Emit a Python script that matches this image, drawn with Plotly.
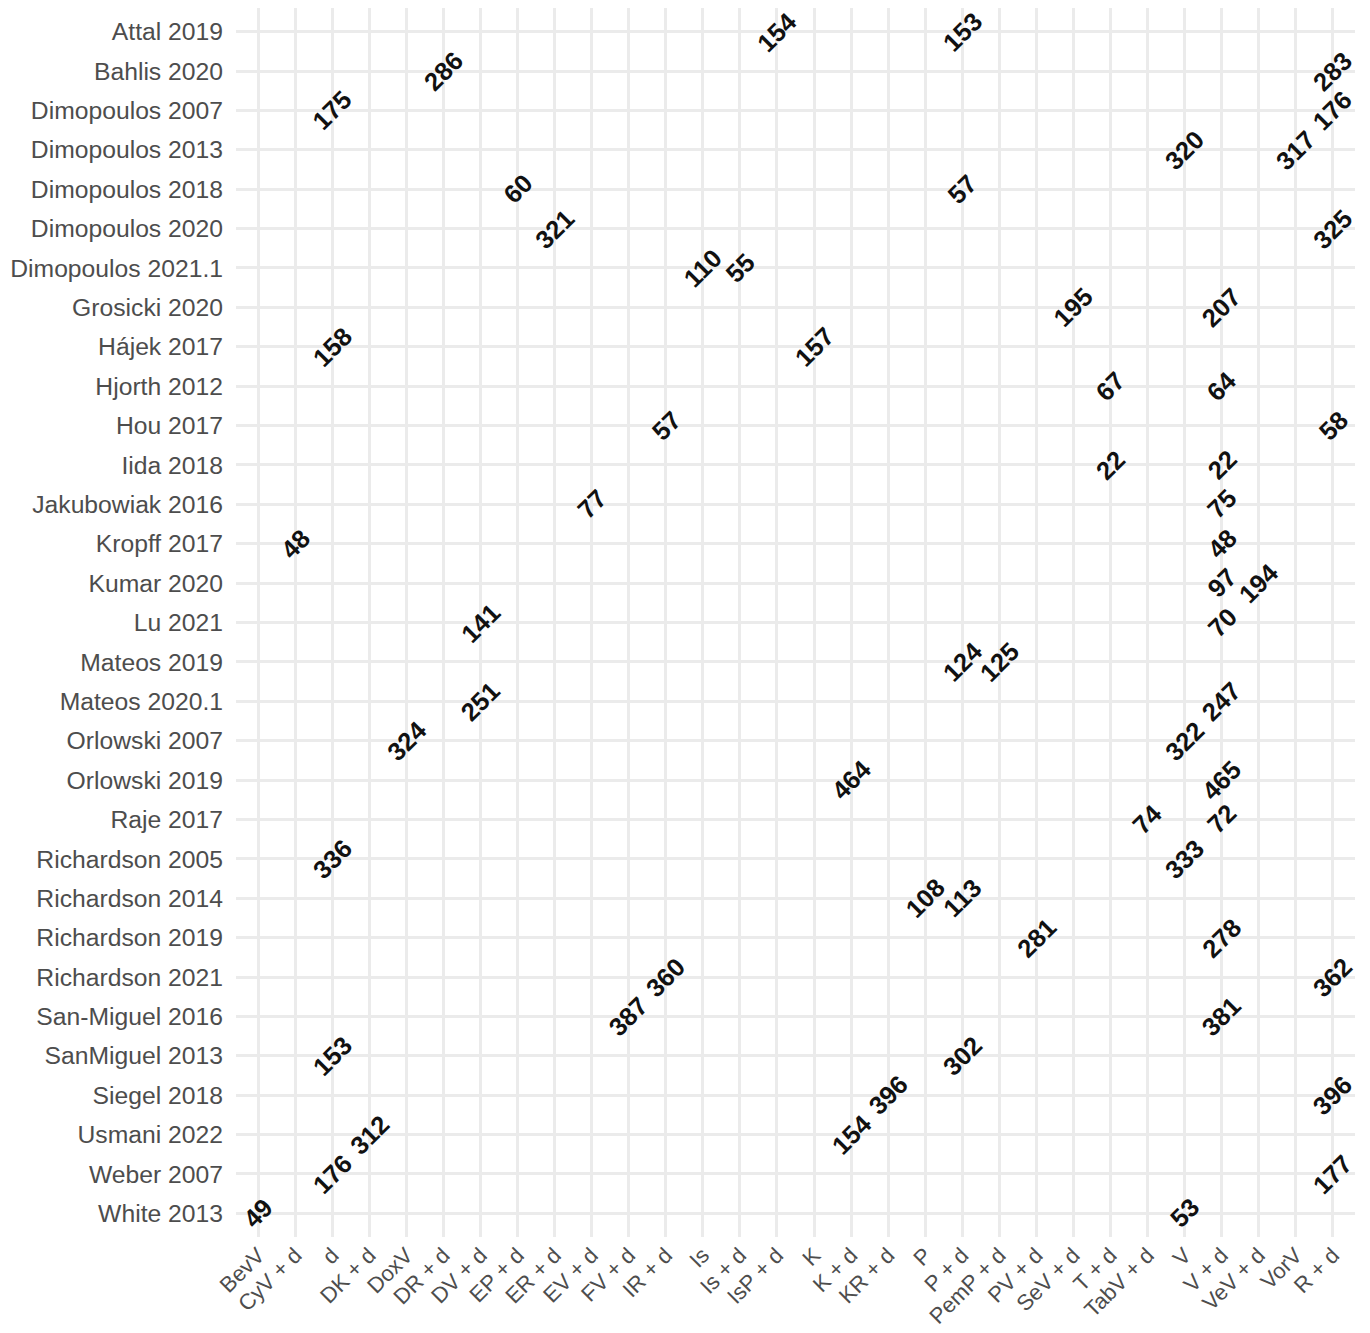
import plotly.graph_objects as go

# Study labels (rows, top to bottom)
studies = [
    "Attal 2019", "Bahlis 2020", "Dimopoulos 2007", "Dimopoulos 2013",
    "Dimopoulos 2018", "Dimopoulos 2020", "Dimopoulos 2021.1", "Grosicki 2020",
    "Hájek 2017", "Hjorth 2012", "Hou 2017", "Iida 2018", "Jakubowiak 2016",
    "Kropff 2017", "Kumar 2020", "Lu 2021", "Mateos 2019", "Mateos 2020.1",
    "Orlowski 2007", "Orlowski 2019", "Raje 2017", "Richardson 2005",
    "Richardson 2014", "Richardson 2019", "Richardson 2021", "San-Miguel 2016",
    "SanMiguel 2013", "Siegel 2018", "Usmani 2022", "Weber 2007", "White 2013",
]

# Treatment arms (columns, left to right)
treatments = [
    "BevV", "CyV + d", "d", "DK + d", "DoxV", "DR + d", "DV + d", "EP + d",
    "ER + d", "EV + d", "FV + d", "IR + d", "Is", "Is + d", "IsP + d", "K",
    "K + d", "KR + d", "P", "P + d", "PemP + d", "PV + d", "SeV + d", "T + d",
    "TabV + d", "V", "V + d", "VeV + d", "VorV", "R + d",
]

# Sample size per study arm
arm_study = [
    "Attal 2019", "Attal 2019",
    "Bahlis 2020", "Bahlis 2020",
    "Dimopoulos 2007", "Dimopoulos 2007",
    "Dimopoulos 2013", "Dimopoulos 2013",
    "Dimopoulos 2018", "Dimopoulos 2018",
    "Dimopoulos 2020", "Dimopoulos 2020",
    "Dimopoulos 2021.1", "Dimopoulos 2021.1",
    "Grosicki 2020", "Grosicki 2020",
    "Hájek 2017", "Hájek 2017",
    "Hjorth 2012", "Hjorth 2012",
    "Hou 2017", "Hou 2017",
    "Iida 2018", "Iida 2018",
    "Jakubowiak 2016", "Jakubowiak 2016",
    "Kropff 2017", "Kropff 2017",
    "Kumar 2020", "Kumar 2020",
    "Lu 2021", "Lu 2021",
    "Mateos 2019", "Mateos 2019",
    "Mateos 2020.1", "Mateos 2020.1",
    "Orlowski 2007", "Orlowski 2007",
    "Orlowski 2019", "Orlowski 2019",
    "Raje 2017", "Raje 2017",
    "Richardson 2005", "Richardson 2005",
    "Richardson 2014", "Richardson 2014",
    "Richardson 2019", "Richardson 2019",
    "Richardson 2021", "Richardson 2021",
    "San-Miguel 2016", "San-Miguel 2016",
    "SanMiguel 2013", "SanMiguel 2013",
    "Siegel 2018", "Siegel 2018",
    "Usmani 2022", "Usmani 2022",
    "Weber 2007", "Weber 2007",
    "White 2013", "White 2013",
]
arm_treatment = [
    "IsP + d", "P + d",
    "DR + d", "R + d",
    "d", "R + d",
    "V", "VorV",
    "EP + d", "P + d",
    "ER + d", "R + d",
    "Is", "Is + d",
    "SeV + d", "V + d",
    "d", "K",
    "T + d", "V + d",
    "IR + d", "R + d",
    "T + d", "V + d",
    "EV + d", "V + d",
    "CyV + d", "V + d",
    "V + d", "VeV + d",
    "DV + d", "V + d",
    "P + d", "PemP + d",
    "DV + d", "V + d",
    "DoxV", "V",
    "K + d", "V + d",
    "TabV + d", "V + d",
    "d", "V",
    "P", "P + d",
    "PV + d", "V + d",
    "IR + d", "R + d",
    "FV + d", "V + d",
    "d", "P + d",
    "KR + d", "R + d",
    "DK + d", "K + d",
    "d", "R + d",
    "BevV", "V",
]
arm_n = [
    154, 153,
    286, 283,
    175, 176,
    320, 317,
    60, 57,
    321, 325,
    110, 55,
    195, 207,
    158, 157,
    67, 64,
    57, 58,
    22, 22,
    77, 75,
    48, 48,
    97, 194,
    141, 70,
    124, 125,
    251, 247,
    324, 322,
    464, 465,
    74, 72,
    336, 333,
    108, 113,
    281, 278,
    360, 362,
    387, 381,
    153, 302,
    396, 396,
    312, 154,
    176, 177,
    49, 53,
]

FONT = "Liberation Sans, Arial, sans-serif"
GRID = "#EBEBEB"
TICK = "#4D4D4D"

fig = go.Figure()

# invisible trace so both categorical axes are registered
fig.add_trace(go.Scatter(
    x=arm_treatment, y=arm_study, mode="markers",
    marker=dict(size=1, opacity=0), hoverinfo="skip", showlegend=False,
))

for s, t, n in zip(arm_study, arm_treatment, arm_n):
    fig.add_annotation(
        x=t, y=s, xref="x", yref="y", text=f"<b>{n}</b>",
        showarrow=False, textangle=-45,
        xanchor="center", yanchor="middle",
        font=dict(family=FONT, size=25.5, color="#111111"),
    )

fig.update_xaxes(
    type="category", categoryorder="array", categoryarray=treatments,
    tickvals=treatments, range=[-0.6, len(treatments) - 0.4],
    tickangle=-45, tickfont=dict(family=FONT, size=22, color=TICK),
    showgrid=True, gridcolor=GRID, gridwidth=2.5,
    zeroline=False, showline=False, ticks="", ticklabelstandoff=0,
    automargin=False,
)
fig.update_yaxes(
    type="category", categoryorder="array", categoryarray=studies,
    tickvals=studies, range=[len(studies) - 0.4, -0.6],
    tickfont=dict(family=FONT, size=24.7, color=TICK),
    showgrid=True, gridcolor=GRID, gridwidth=2.5,
    zeroline=False, showline=False, ticks="", ticklabelstandoff=12,
    automargin=False,
)

fig.update_layout(
    width=1370, height=1333,
    margin=dict(l=236, r=15, t=8, b=96),
    plot_bgcolor="white", paper_bgcolor="white",
    showlegend=False,
)

fig.write_html("out.html")
